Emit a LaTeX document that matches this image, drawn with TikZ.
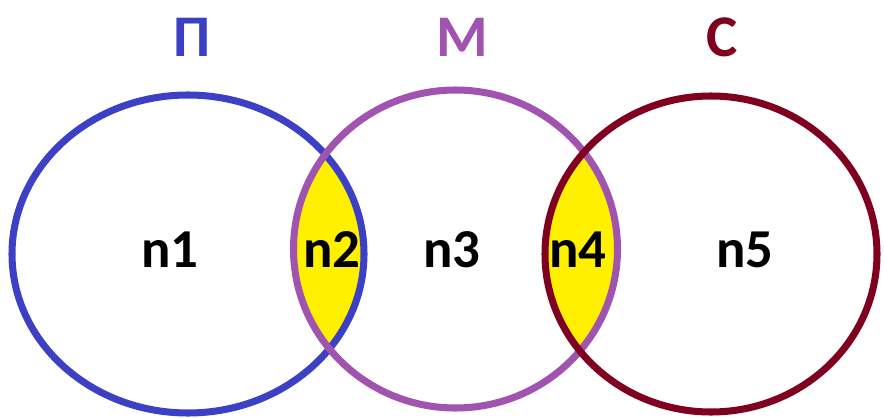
\documentclass[tikz,border=0pt]{standalone}
\usepackage{fontspec}
\setmainfont{Carlito}
\definecolor{setblue}{RGB}{60,64,196}
\definecolor{setviolet}{RGB}{160,84,176}
\definecolor{setred}{RGB}{128,0,32}
\definecolor{lensyellow}{RGB}{255,240,0}

\begin{document}
\begin{tikzpicture}[
  x=0.025cm, y=0.025cm,
  ring/.style={line width=5pt},
  nlbl/.style={font=\bfseries\fontsize{39}{44}\selectfont, inner sep=0pt},
  tlbl/.style={font=\bfseries\fontsize{42}{48}\selectfont, inner sep=0pt}
]
  \useasboundingbox (0,0) rectangle (884,417);

  % overlaps
  \begin{scope}
    \clip (188,163) ellipse [x radius=176, y radius=159];
    \fill[lensyellow] (455.5,168) ellipse [x radius=162, y radius=159];
  \end{scope}
  \begin{scope}
    \clip (455.5,168) ellipse [x radius=162, y radius=159];
    \fill[lensyellow] (711,163) ellipse [x radius=166, y radius=158];
  \end{scope}

  % the three sets
  \draw[ring, setblue] (188,163) ellipse [x radius=176, y radius=159];
  \draw[ring, setviolet] (455.5,168) ellipse [x radius=162, y radius=159];
  \draw[ring, setred] (711,163) ellipse [x radius=166, y radius=158];

  \node[tlbl, setblue] (p) at (192,380) {П};
  \node[tlbl, setviolet] (m) at (462,380) {М};
  \node[tlbl, setred] (s) at (722,380) {С};

  \node[nlbl] (n1) at (170,167) {n1};
  \node[nlbl] (n2) at (332,167) {n2};
  \node[nlbl] (n3) at (452,167) {n3};
  \node[nlbl] (n4) at (578,167) {n4};
  \node[nlbl] (n5) at (745,167) {n5};
\end{tikzpicture}
\end{document}
